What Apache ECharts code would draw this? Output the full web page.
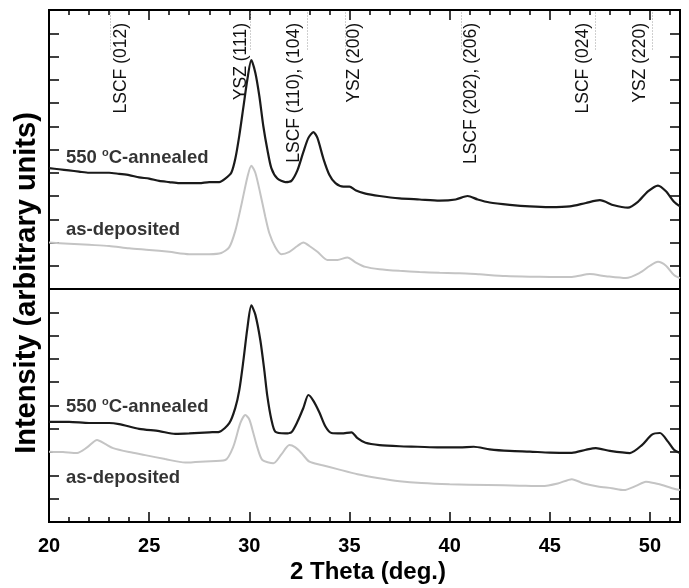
<!DOCTYPE html>
<html>
<head>
<meta charset="utf-8">
<script src="https://cdn.jsdelivr.net/npm/echarts@6/dist/echarts.min.js"></script>
<style>html,body{margin:0;padding:0;background:#fff}#c{width:689px;height:588px}</style>
</head>
<body>
<div id="c"></div>
<script>
// ---- data ----
const xTicks = [20, 25, 30, 35, 40, 45, 50];
const peakNames = ['LSCF (012)', 'YSZ (111)', 'LSCF (110), (104)', 'YSZ (200)', 'LSCF (202), (206)', 'LSCF (024)', 'YSZ (220)'];
const peakPositions = [23.05, 30.05, 32.9, 34.8, 40.6, 47.25, 50.1];
const curveNames = ['550 {s|o}C-annealed', 'as-deposited'];

const annealedTop = [[20,5.2],[20.5,5.15],[21,5.1],[21.5,5.05],[22,5.0],[22.5,5.0],[23,5.0],[23.5,4.95],[24,4.9],[24.5,4.8],[25,4.75],[25.5,4.65],[26,4.6],[26.5,4.55],[27,4.55],[27.5,4.55],[28,4.6],[28.5,4.6],[28.8,4.75],[29.1,5.0],[29.3,5.6],[29.5,6.6],[29.7,7.8],[29.9,9.0],[30.1,9.85],[30.3,9.3],[30.5,8.3],[30.7,7.0],[30.9,6.0],[31.1,5.2],[31.4,4.75],[31.8,4.6],[32.1,4.65],[32.4,5.1],[32.7,5.9],[32.95,6.5],[33.2,6.75],[33.4,6.5],[33.7,5.6],[34.0,4.9],[34.3,4.55],[34.7,4.4],[35.0,4.4],[35.3,4.25],[35.8,4.1],[36.5,4.0],[37.5,3.9],[38.5,3.85],[39.5,3.8],[40.3,3.85],[40.9,4.0],[41.4,3.85],[42,3.72],[43,3.62],[44,3.55],[45,3.52],[46,3.55],[46.8,3.7],[47.5,3.82],[48.2,3.6],[48.9,3.5],[49.4,3.75],[49.9,4.2],[50.4,4.45],[50.8,4.2],[51.2,3.75],[51.5,3.55]];
const depositedTop = [[20,2.0],[21,1.95],[22,1.9],[23,1.85],[24,1.75],[25,1.68],[26,1.6],[27,1.5],[28,1.5],[28.6,1.55],[29.0,1.8],[29.3,2.5],[29.6,3.6],[29.9,4.8],[30.1,5.3],[30.3,5.0],[30.55,4.1],[30.8,3.1],[31.0,2.4],[31.3,1.8],[31.6,1.5],[32.0,1.6],[32.4,1.85],[32.7,2.0],[33.0,1.85],[33.4,1.6],[33.9,1.25],[34.4,1.25],[34.9,1.36],[35.3,1.15],[35.8,0.95],[36.5,0.85],[37.5,0.78],[38.5,0.73],[39.5,0.7],[40.5,0.68],[41.5,0.63],[42.8,0.56],[44,0.53],[45,0.52],[46.1,0.52],[47,0.64],[47.8,0.55],[48.8,0.47],[49.5,0.7],[50.0,1.0],[50.4,1.17],[50.8,1.0],[51.2,0.6],[51.5,0.47]];
const annealedBottom = [[20,4.3],[21,4.3],[22,4.25],[23,4.25],[23.5,4.2],[24.5,4.0],[25.5,3.9],[26.3,3.78],[27,3.8],[28,3.85],[28.5,3.87],[29.0,4.24],[29.3,4.9],[29.5,5.66],[29.7,6.9],[29.9,8.3],[30.1,9.3],[30.3,8.9],[30.55,7.8],[30.75,6.5],[30.9,5.4],[31.1,4.4],[31.3,3.87],[31.8,3.8],[32.1,3.85],[32.4,4.3],[32.7,4.9],[32.95,5.45],[33.2,5.2],[33.5,4.7],[33.8,4.1],[34.1,3.82],[34.6,3.8],[35.1,3.85],[35.4,3.6],[35.8,3.4],[36.5,3.3],[37.5,3.25],[38.4,3.23],[39.5,3.2],[40.5,3.2],[41.2,3.23],[42,3.12],[43,3.05],[44,3.02],[45,2.98],[46.1,2.97],[46.8,3.1],[47.3,3.17],[48,3.05],[49,2.96],[49.6,3.3],[50.1,3.75],[50.5,3.82],[50.9,3.45],[51.2,3.1],[51.5,2.96]];
const depositedBottom = [[20,3.02],[20.7,3.0],[21.4,2.96],[21.9,3.2],[22.4,3.52],[22.8,3.35],[23.2,3.17],[24,3.0],[24.8,2.87],[25.8,2.7],[26.8,2.55],[27.8,2.6],[28.8,2.66],[29.2,3.23],[29.55,4.24],[29.8,4.59],[30.0,4.4],[30.2,3.82],[30.4,3.2],[30.65,2.66],[31.2,2.52],[31.6,2.9],[32.0,3.3],[32.3,3.2],[32.6,2.96],[33.0,2.59],[33.6,2.45],[34.4,2.27],[35.4,2.05],[36.4,1.89],[37.5,1.75],[38.6,1.67],[40,1.62],[41.9,1.59],[43.5,1.56],[44.6,1.54],[45.4,1.65],[46.1,1.84],[46.7,1.65],[47.4,1.52],[48.1,1.45],[48.7,1.37],[49.3,1.55],[49.8,1.73],[50.3,1.65],[50.6,1.59],[51.1,1.45],[51.5,1.37]];

// caption anchors (data units)
const curveLabelsTop = [[20.85, 5.63], [20.85, 2.54]];
const curveLabelsBottom = [[20.85, 4.94], [20.85, 1.89]];
const peakLabelTop = 11.44;   // y (data units) where the rotated peak labels end
const peakLineFrom = 10.3, peakLineTo = 11.9;

// ---- styles ----
const peakLabelOffsets = [11, -9, -13, 9, 10, -12, -12];
const FONT = '"Liberation Sans", Arial, sans-serif';
const X_MIN = 20, X_MAX = 51.5;

const chart = echarts.init(document.getElementById('c'));

function xMajor(grid, pos, labels) {
  return {
    type: 'value', gridIndex: grid, position: pos, min: X_MIN, max: X_MAX, interval: 5,
    axisLine: { show: true, onZero: false, lineStyle: { color: '#000', width: 2 } },
    axisTick: { show: true, inside: true, length: 10, lineStyle: { color: '#000', width: 1.5 } },
    axisLabel: {
      show: labels, margin: 14, color: '#000', fontFamily: FONT, fontWeight: 'bold', fontSize: 20,
      formatter: v => (xTicks.indexOf(v) >= 0 ? String(v) : '')
    },
    splitLine: { show: false }
  };
}
function xMinor(grid, pos) {
  return {
    type: 'value', gridIndex: grid, position: pos, min: X_MIN, max: X_MAX, interval: 1,
    axisLine: { show: false, onZero: false },
    axisTick: { show: true, inside: true, length: 5, lineStyle: { color: '#000', width: 1.5 } },
    axisLabel: { show: false }, splitLine: { show: false }
  };
}
function yAx(grid, pos, max) {
  return {
    type: 'value', gridIndex: grid, position: pos, min: 0, max: max, interval: 1,
    axisLine: { show: true, onZero: false, lineStyle: { color: '#000', width: 2 } },
    axisTick: { show: true, inside: true, length: 10, lineStyle: { color: '#000', width: 1.5 } },
    axisLabel: { show: false }, splitLine: { show: false }
  };
}
function curve(data, xi, yi, color, w) {
  return {
    type: 'line', data: data, xAxisIndex: xi, yAxisIndex: yi, showSymbol: false, smooth: 0.25,
    lineStyle: { color: color, width: w }, silent: true, z: 3
  };
}
function captions(data, xi, yi) {
  return {
    type: 'scatter', xAxisIndex: xi, yAxisIndex: yi, symbolSize: 0, silent: true,
    data: data.map((d, i) => ({ value: d, name: curveNames[i] })),
    label: {
      show: true, position: [0, 0], align: 'left', verticalAlign: 'middle',
      formatter: p => p.name, color: '#000', fontFamily: FONT, fontWeight: 'bold', fontSize: 18.5,
      rich: { s: { fontSize: 11, fontWeight: 'bold', fontFamily: FONT, color: '#000', verticalAlign: 'top', padding: [0, 0, 10, 0] } }
    }, z: 5
  };
}

const option = {
  animation: false,
  backgroundColor: '#fff',
  grid: [
    { left: 49, right: 9, top: 10, height: 279, show: true, borderColor: '#000', borderWidth: 2 },
    { left: 49, right: 9, top: 289, height: 233, show: true, borderColor: '#000', borderWidth: 2 }
  ],
  xAxis: [
    xMajor(0, 'top', false), xMinor(0, 'top'),
    xMajor(1, 'bottom', true), xMinor(1, 'bottom')
  ],
  yAxis: [
    yAx(0, 'left', 12), yAx(0, 'right', 12),
    yAx(1, 'left', 10), yAx(1, 'right', 10)
  ],
  series: [
    curve(depositedTop, 0, 0, '#c4c4c4', 2),
    curve(annealedTop, 0, 0, '#1a1a1a', 2.2),
    curve(depositedBottom, 2, 2, '#c4c4c4', 2),
    curve(annealedBottom, 2, 2, '#1a1a1a', 2.2),
    captions(curveLabelsTop, 0, 0),
    captions(curveLabelsBottom, 2, 2),
    {
      type: 'line', xAxisIndex: 0, yAxisIndex: 0, data: [], silent: true,
      markLine: {
        silent: true, symbol: 'none', label: { show: false },
        lineStyle: { color: '#a0a0a0', type: [1, 2], width: 1 },
        data: peakPositions.map(p => [{ coord: [p, peakLineFrom] }, { coord: [p, peakLineTo] }])
      },
      z: 4
    }
  ]
};
chart.setOption(option);

// rotated peak labels, placed through the chart's own coordinate conversion
const peakGraphics = peakPositions.map((p, i) => {
  const pt = chart.convertToPixel({ xAxisIndex: 0, yAxisIndex: 0 }, [p, peakLabelTop]);
  return {
    type: 'text', x: pt[0] + peakLabelOffsets[i], y: pt[1], rotation: Math.PI / 2, silent: true,
    style: { text: peakNames[i], fill: '#111', font: '17.5px ' + FONT, align: 'right', verticalAlign: 'middle' }
  };
});
chart.setOption({
  graphic: [
    { type: 'text', x: 27, y: 283, rotation: Math.PI / 2, silent: true,
      style: { text: 'Intensity (arbitrary units)', fill: '#000', font: 'bold 29px ' + FONT, align: 'center', verticalAlign: 'middle' } },
    { type: 'text', x: 368, y: 572, silent: true,
      style: { text: '2 Theta (deg.)', fill: '#000', font: 'bold 24px ' + FONT, align: 'center', verticalAlign: 'middle' } }
  ].concat(peakGraphics)
});
</script>
</body>
</html>
